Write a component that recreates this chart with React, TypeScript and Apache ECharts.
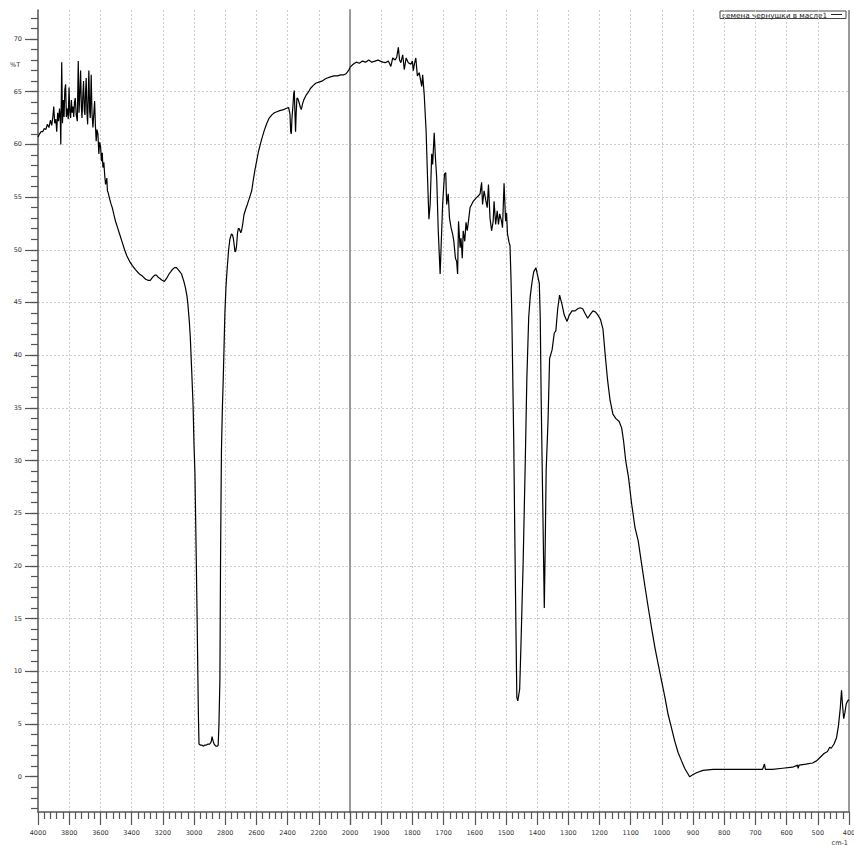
import React, { useEffect, useRef } from 'react';
import * as echarts from 'echarts';

const seriesName = 'семена чернушки в масле1';
const yUnitLabel = '%T';
const xUnitLabel = 'cm-1';

const yLabelValues = [0, 5, 10, 15, 20, 25, 30, 35, 40, 45, 50, 55, 60, 65, 70];
const yMinorValues = [-3, -2, -1, 0, 1, 2, 3, 4, 5, 6, 7, 8, 9, 10, 11, 12, 13, 14, 15, 16, 17, 18, 19, 20, 21, 22, 23, 24, 25, 26, 27, 28, 29, 30, 31, 32, 33, 34, 35, 36, 37, 38, 39, 40, 41, 42, 43, 44, 45, 46, 47, 48, 49, 50, 51, 52, 53, 54, 55, 56, 57, 58, 59, 60, 61, 62, 63, 64, 65, 66, 67, 68, 69, 70, 71, 72];
const xHighLabels = [4000, 3800, 3600, 3400, 3200, 3000, 2800, 2600, 2400, 2200];
const xLowLabels = [2000, 1900, 1800, 1700, 1600, 1500, 1400, 1300, 1200, 1100, 1000, 900, 800, 700, 600, 500, 400];

// [wavenumber cm-1, transmittance %]  4000 -> 2000
const spectrumHigh = [
  [4000, 60.7], [3990, 61.0], [3980, 61.2], [3970, 61.2], [3960, 61.5], [3950, 61.4], [3940, 61.9], [3930, 61.6],
  [3920, 62.3], [3912, 61.8], [3905, 62.6], [3899, 63.6], [3893, 62.0], [3886, 62.4], [3880, 61.2], [3874, 63.0],
  [3868, 62.2], [3862, 63.4], [3857, 62.4], [3854, 60.0], [3848, 67.8], [3843, 62.0], [3838, 64.2], [3833, 62.6],
  [3828, 65.2], [3823, 65.7], [3818, 62.6], [3812, 63.4], [3806, 62.4], [3801, 65.4], [3796, 63.0], [3791, 62.5],
  [3786, 64.2], [3781, 63.0], [3776, 63.6], [3771, 62.6], [3766, 64.0], [3761, 64.4], [3755, 62.8], [3748, 62.2],
  [3742, 67.9], [3737, 63.0], [3733, 64.4], [3727, 67.0], [3722, 63.6], [3718, 62.5], [3713, 64.5], [3708, 66.0],
  [3703, 63.2], [3699, 62.8], [3695, 65.0], [3691, 66.3], [3686, 63.0], [3682, 61.9], [3678, 64.5], [3674, 67.0],
  [3669, 63.2], [3665, 62.5], [3659, 66.6], [3654, 63.0], [3648, 61.6], [3642, 63.0], [3637, 64.1], [3632, 61.8],
  [3627, 60.3], [3622, 61.4], [3616, 61.0], [3610, 59.1], [3605, 60.2], [3599, 59.8], [3593, 58.4], [3588, 59.2],
  [3584, 57.8], [3578, 58.3], [3572, 57.0], [3567, 56.2], [3559, 56.8], [3555, 55.6], [3550, 55.4], [3542, 54.9],
  [3533, 54.4], [3524, 54.0], [3513, 53.3], [3503, 52.7], [3490, 52.1], [3477, 51.5], [3460, 50.7], [3445, 50.0],
  [3430, 49.4], [3413, 48.9], [3395, 48.5], [3374, 48.1], [3350, 47.7], [3331, 47.5], [3310, 47.2], [3295, 47.1],
  [3280, 47.1], [3265, 47.4], [3250, 47.6], [3241, 47.6], [3230, 47.4], [3220, 47.3], [3205, 47.1], [3190, 47.0],
  [3175, 47.3], [3160, 47.7], [3140, 48.1], [3125, 48.3], [3112, 48.3], [3095, 48.0], [3080, 47.7], [3065, 47.0],
  [3055, 46.4], [3045, 45.6], [3039, 44.8], [3030, 43.2], [3024, 41.8], [3015, 38.6], [3006, 35.3], [3000, 31.5],
  [2994, 28.8], [2990, 25.0], [2985, 20.1], [2980, 15.0], [2976, 10.5], [2972, 6.0], [2968, 3.1], [2960, 3.0],
  [2950, 3.0], [2942, 2.9], [2930, 3.0], [2920, 3.0], [2910, 3.1], [2899, 3.1], [2890, 3.3], [2884, 3.8],
  [2878, 3.4], [2871, 3.1], [2860, 2.9], [2850, 2.9], [2845, 3.0], [2840, 5.0], [2834, 9.2], [2830, 20.1],
  [2827, 26.0], [2824, 31.0], [2818, 35.0], [2813, 37.5], [2807, 41.0], [2802, 44.0], [2795, 46.5], [2787, 48.3],
  [2778, 50.0], [2770, 51.0], [2760, 51.5], [2753, 51.4], [2747, 51.0], [2742, 50.4], [2737, 49.8], [2732, 49.9],
  [2727, 50.4], [2721, 51.6], [2716, 52.0], [2710, 52.0], [2705, 51.8], [2700, 51.6], [2694, 51.9], [2688, 52.4],
  [2680, 53.3], [2670, 53.8], [2658, 54.3], [2645, 54.9], [2630, 55.6], [2620, 56.6], [2609, 57.6], [2600, 58.3],
  [2587, 59.3], [2575, 60.0], [2566, 60.5], [2550, 61.3], [2533, 62.0], [2518, 62.5], [2501, 62.8], [2485, 63.0],
  [2469, 63.1], [2450, 63.2], [2426, 63.3], [2410, 63.4], [2394, 63.5], [2385, 62.9], [2380, 61.2], [2376, 61.0],
  [2372, 62.5], [2366, 63.6], [2361, 64.8], [2357, 65.1], [2353, 63.0], [2349, 61.2], [2345, 63.0], [2340, 64.4],
  [2333, 64.3], [2325, 63.9], [2318, 63.5], [2312, 63.3], [2305, 63.8], [2297, 64.2], [2280, 64.7], [2265, 65.0],
  [2254, 65.3], [2235, 65.6], [2220, 65.8], [2200, 65.9], [2180, 66.0], [2160, 66.2], [2146, 66.3], [2125, 66.4],
  [2103, 66.5], [2080, 66.5], [2060, 66.6], [2039, 66.6], [2025, 66.7], [2015, 66.9], [2006, 67.1], [2000, 67.3],
];

// [wavenumber cm-1, transmittance %]  2000 -> 400
const spectrumLow = [
  [2000, 67.3], [1990, 67.6], [1980, 67.8], [1970, 67.7], [1960, 67.9], [1950, 67.8], [1940, 68.0], [1930, 67.8],
  [1920, 67.9], [1910, 68.0], [1903, 67.9], [1895, 67.8], [1887, 67.75], [1877, 67.9], [1869, 67.4], [1863, 68.2],
  [1855, 68.0], [1850, 68.3], [1845, 69.2], [1841, 68.0], [1837, 67.75], [1831, 68.5], [1826, 67.1], [1820, 68.2],
  [1813, 67.75], [1805, 67.6], [1800, 67.9], [1797, 67.0], [1793, 67.7], [1789, 68.2], [1784, 66.5], [1778, 66.8],
  [1775, 66.3], [1770, 65.5], [1767, 66.6], [1762, 64.7], [1756, 61.3], [1751, 56.5], [1747, 52.9], [1743, 54.3],
  [1738, 59.1], [1735, 58.1], [1730, 61.1], [1726, 58.7], [1722, 56.8], [1717, 51.8], [1711, 47.7], [1706, 51.8],
  [1703, 54.3], [1697, 57.2], [1693, 57.3], [1690, 54.3], [1685, 55.3], [1681, 53.0], [1676, 52.1], [1671, 51.5],
  [1667, 50.8], [1662, 49.2], [1658, 48.9], [1655, 47.7], [1652, 52.7], [1647, 50.2], [1644, 51.1], [1640, 49.2],
  [1637, 51.8], [1632, 50.8], [1628, 52.6], [1624, 51.8], [1619, 53.0], [1615, 54.0], [1610, 54.3], [1605, 54.6],
  [1596, 54.9], [1589, 55.1], [1583, 55.3], [1578, 56.4], [1575, 54.3], [1570, 55.6], [1564, 54.6], [1560, 54.0],
  [1556, 56.2], [1551, 53.0], [1546, 51.8], [1541, 52.7], [1538, 54.6], [1533, 52.4], [1528, 53.7], [1524, 52.4],
  [1520, 53.4], [1514, 52.7], [1511, 52.1], [1506, 56.3], [1501, 52.7], [1498, 53.5], [1495, 51.5], [1490, 50.7],
  [1487, 50.4], [1484, 47.5], [1481, 43.6], [1475, 31.9], [1472, 24.0], [1468, 14.2], [1465, 7.5], [1462, 7.2],
  [1456, 8.3], [1452, 12.3], [1445, 20.1], [1438, 29.9], [1433, 37.7], [1427, 43.6], [1422, 45.6], [1417, 46.8],
  [1411, 47.9], [1404, 48.3], [1398, 47.5], [1393, 46.8], [1390, 43.6], [1387, 35.8], [1382, 26.0], [1377, 16.0],
  [1374, 22.1], [1371, 29.1], [1365, 33.8], [1360, 39.7], [1352, 40.5], [1345, 42.1], [1340, 42.3], [1334, 44.4],
  [1328, 45.7], [1320, 44.8], [1313, 43.8], [1304, 43.2], [1297, 43.8], [1288, 44.2], [1278, 44.2], [1270, 44.4],
  [1262, 44.5], [1254, 44.4], [1247, 44.0], [1238, 43.5], [1229, 43.9], [1221, 44.2], [1213, 44.1], [1205, 43.8],
  [1197, 43.4], [1189, 42.5], [1181, 39.8], [1174, 37.6], [1166, 35.7], [1157, 34.4], [1148, 34.0], [1137, 33.7],
  [1129, 33.1], [1123, 31.9], [1116, 30.0], [1107, 28.4], [1097, 25.9], [1086, 23.6], [1076, 22.4], [1065, 20.2],
  [1054, 18.0], [1044, 16.1], [1033, 14.1], [1022, 12.2], [1012, 10.7], [1001, 9.1], [990, 7.5], [980, 5.9],
  [969, 4.6], [959, 3.4], [948, 2.3], [937, 1.5], [927, 0.8], [919, 0.4], [911, 0.0], [900, 0.2],
  [887, 0.4], [868, 0.6], [836, 0.7], [804, 0.7], [772, 0.7], [740, 0.7], [709, 0.7], [677, 0.7],
  [671, 1.2], [668, 0.7], [645, 0.7], [613, 0.8], [581, 0.9], [565, 1.1], [563, 0.8], [560, 1.1],
  [538, 1.2], [517, 1.3], [504, 1.5], [494, 1.8], [480, 2.2], [469, 2.4], [462, 2.8], [457, 2.7],
  [448, 3.1], [440, 3.7], [434, 4.8], [428, 6.5], [424, 8.2], [421, 6.9], [417, 5.5], [413, 6.1],
  [409, 6.9], [404, 7.2], [400, 7.3],
];

export default function App() {
  const ref = useRef<HTMLDivElement>(null);

  useEffect(() => {
    if (!ref.current) return;
    const chart = echarts.init(ref.current, null, { renderer: 'svg' });
    const font = 'DejaVu Sans';
    const axisColor = '#555';
    const labelColor = '#333';
    const yMin = -3.35;
    const yMax = 72.75;
    const gridLine = {
      show: true,
      showMinLine: false,
      showMaxLine: false,
      lineStyle: { color: '#cdcdcd', type: [2, 2], width: 1 },
    };
    const tickStyle = { color: axisColor, width: 1.2 };
    const labelStyle = {
      fontSize: 6.5,
      fontFamily: font,
      color: labelColor,
      formatter: (v: number) => String(v),
    };

    chart.setOption({
      animation: false,
      backgroundColor: '#ffffff',
      textStyle: { fontFamily: font },
      grid: [
        { left: 38, top: 10, width: 312, height: 802, containLabel: false, outerBoundsMode: 'none' },
        { left: 350, top: 10, width: 499, height: 802, containLabel: false, outerBoundsMode: 'none' },
      ],
      xAxis: [
        {
          type: 'value', gridIndex: 0, min: 2000, max: 4000, interval: 200, inverse: true, position: 'bottom',
          axisLine: { show: true, onZero: false, lineStyle: { color: axisColor, width: 1.5 } },
          axisTick: { show: true, inside: false, length: 13, lineStyle: tickStyle },
          minorTick: { show: true, splitNumber: 5, length: 7, lineStyle: tickStyle },
          axisLabel: { show: true, customValues: xHighLabels, margin: 17, ...labelStyle },
          splitLine: gridLine,
          minorSplitLine: { show: false },
        },
        {
          type: 'value', gridIndex: 1, min: 400, max: 2000, interval: 100, inverse: true, position: 'bottom',
          axisLine: { show: true, onZero: false, lineStyle: { color: axisColor, width: 1.5 } },
          axisTick: { show: true, inside: false, length: 13, lineStyle: tickStyle },
          minorTick: { show: true, splitNumber: 5, length: 7, lineStyle: tickStyle },
          axisLabel: { show: true, customValues: xLowLabels, margin: 17, ...labelStyle },
          splitLine: gridLine,
          minorSplitLine: { show: false },
        },
      ],
      yAxis: [
        {
          type: 'value', gridIndex: 0, min: yMin, max: yMax, splitNumber: 15, position: 'left',
          axisLine: { show: true, onZero: false, lineStyle: { color: axisColor, width: 1.5 } },
          axisTick: { show: true, inside: false, length: 13, customValues: yLabelValues, lineStyle: tickStyle },
          axisLabel: { show: true, customValues: yLabelValues, margin: 16, ...labelStyle },
          splitLine: gridLine,
        },
        {
          type: 'value', gridIndex: 0, min: yMin, max: yMax, position: 'left',
          axisLine: { show: false, onZero: false },
          axisTick: { show: true, inside: false, length: 7, customValues: yMinorValues, lineStyle: tickStyle },
          axisLabel: { show: false },
          splitLine: { show: false },
        },
        {
          type: 'value', gridIndex: 1, min: yMin, max: yMax, splitNumber: 15, position: 'left',
          axisLine: { show: true, onZero: false, lineStyle: { color: '#9a9a9a', width: 2 } },
          axisTick: { show: false, customValues: yLabelValues },
          axisLabel: { show: false },
          splitLine: gridLine,
        },
      ],
      graphic: [
        { type: 'text', left: 10, top: 61, style: { text: yUnitLabel, fontSize: 6.5, fontFamily: font, fill: labelColor } },
        { type: 'text', right: 6, top: 839, style: { text: xUnitLabel, fontSize: 6.5, fontFamily: font, fill: labelColor } },
        { type: 'line', shape: { x1: 849, y1: 10, x2: 849, y2: 812 }, style: { stroke: axisColor, lineWidth: 1.2 } },
        {
          type: 'group',
          z: 100,
          children: [
            { type: 'rect', shape: { x: 720, y: 11, width: 126, height: 7.5 }, style: { fill: '#fff', stroke: '#444', lineWidth: 1 } },
            { type: 'text', x: 722, y: 15, style: { text: seriesName, fontSize: 7.3, fontFamily: font, fill: '#222', verticalAlign: 'middle' } },
            { type: 'line', shape: { x1: 831, y1: 14.5, x2: 842, y2: 14.5 }, style: { stroke: '#222', lineWidth: 1 } },
          ],
        },
      ],
      series: [
        {
          name: seriesName, type: 'line', xAxisIndex: 0, yAxisIndex: 0, data: spectrumHigh,
          symbol: 'none', showSymbol: false, lineStyle: { color: '#000', width: 1.2 }, itemStyle: { color: '#000' },
        },
        {
          name: seriesName, type: 'line', xAxisIndex: 1, yAxisIndex: 2, data: spectrumLow,
          symbol: 'none', showSymbol: false, lineStyle: { color: '#000', width: 1.2 }, itemStyle: { color: '#000' },
        },
      ],
    });

    return () => chart.dispose();
  }, []);

  return (
    <div
      ref={ref}
      style={{ position: 'fixed', left: 0, top: 0, width: 854, height: 845, background: '#fff' }}
    />
  );
}
